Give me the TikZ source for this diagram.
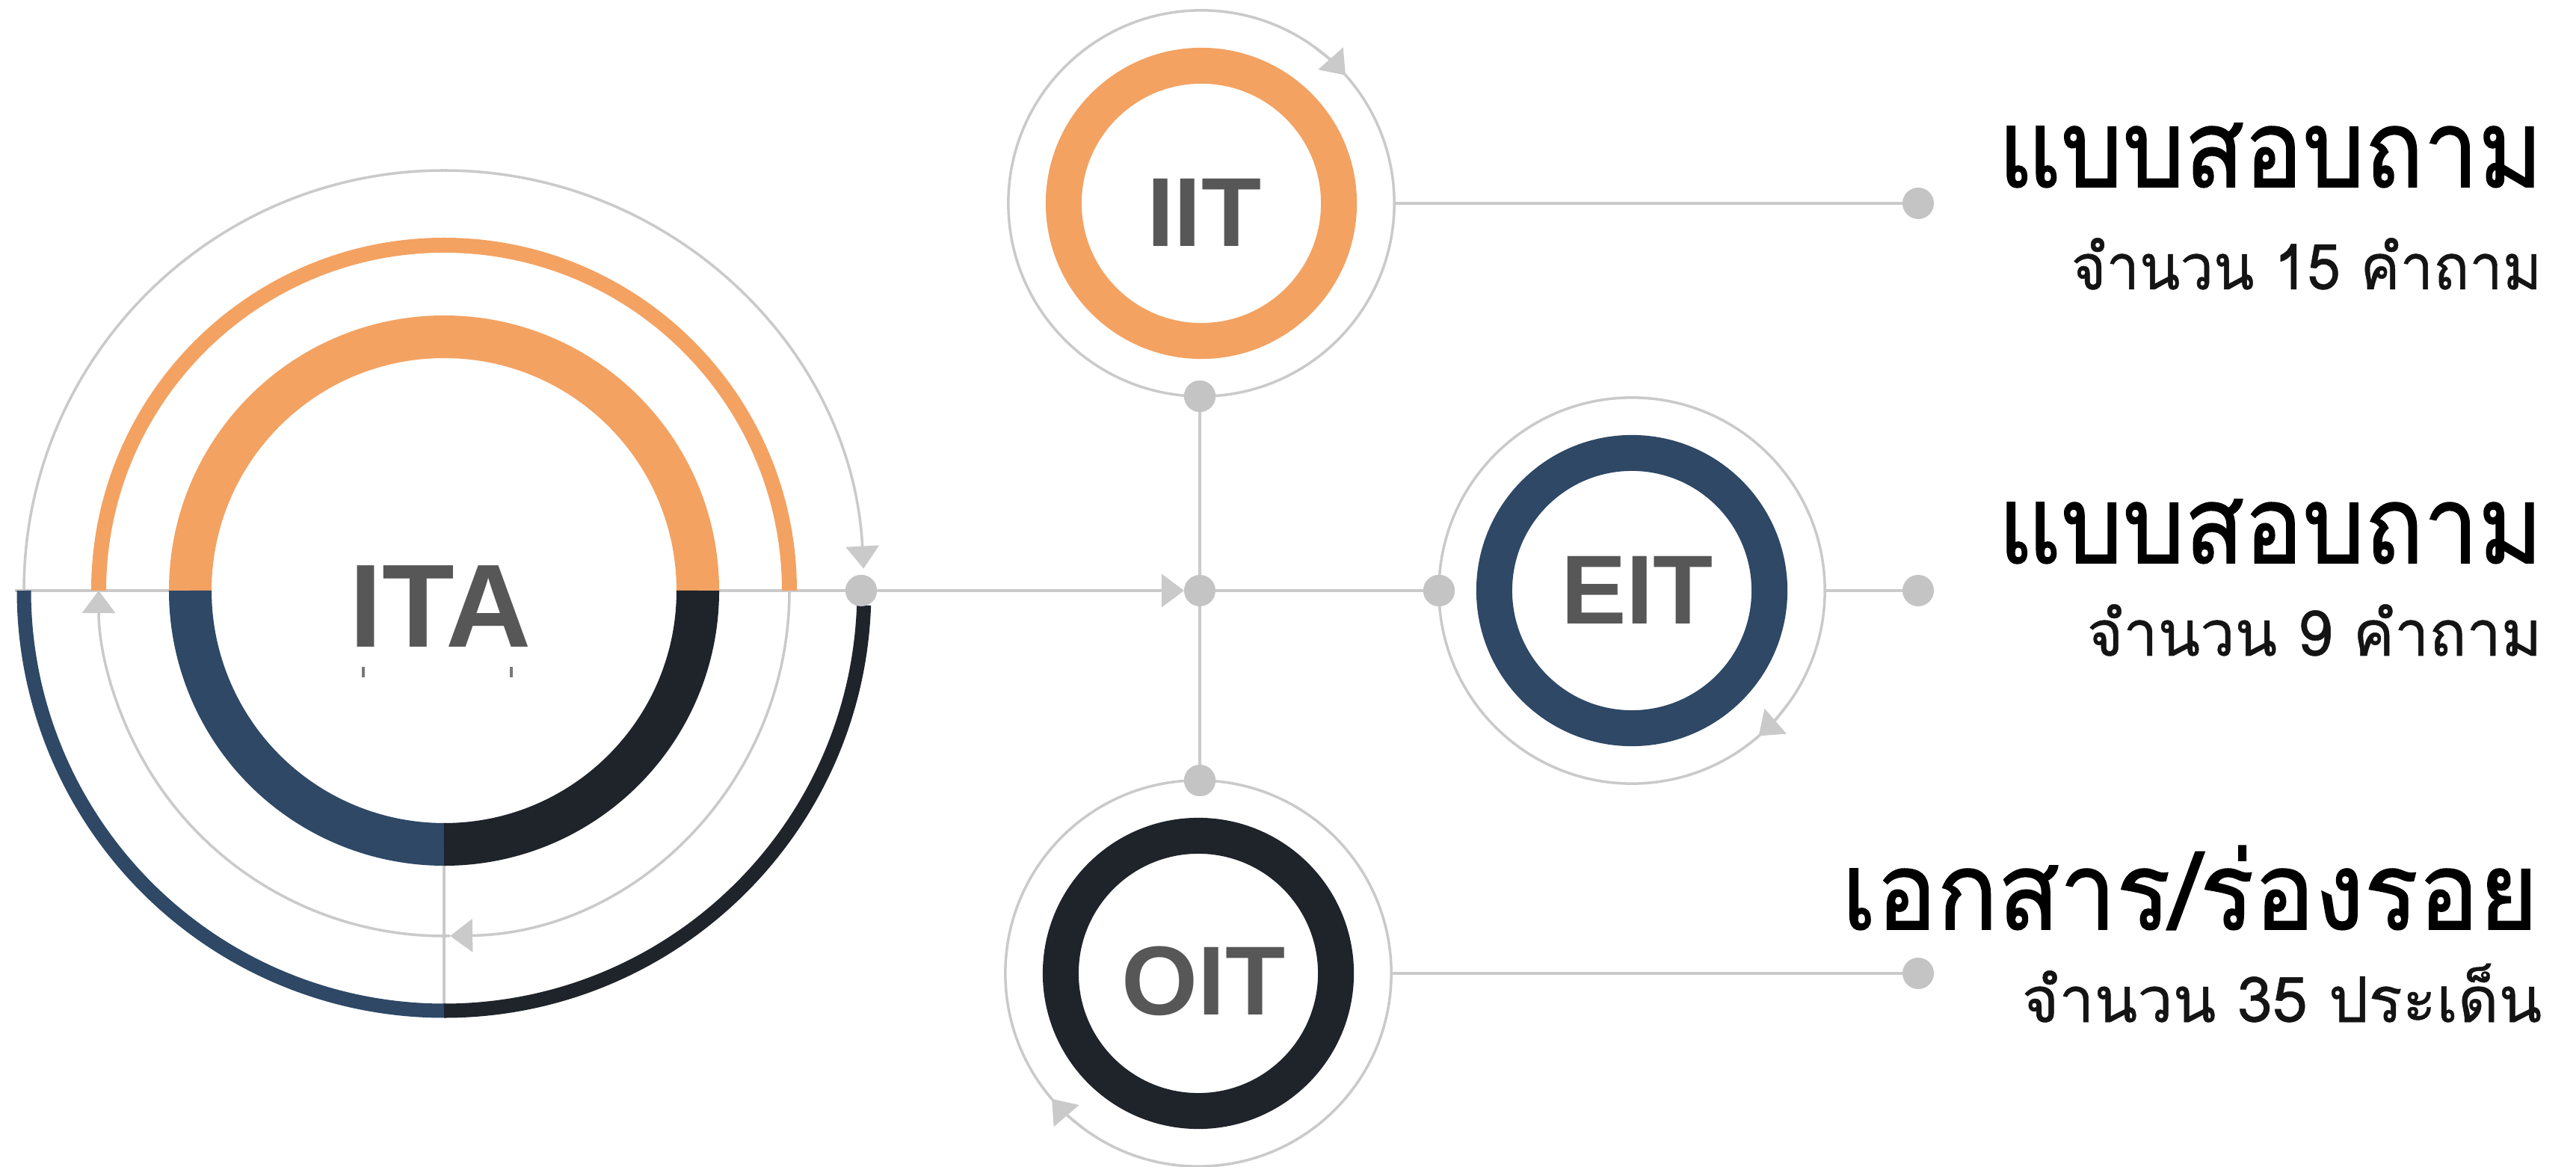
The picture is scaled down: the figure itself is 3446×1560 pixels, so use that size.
\documentclass[tikz,border=0pt]{standalone}
\usepackage{fontspec}
\setmainfont{Liberation Sans}
\newfontfamily\thaihead[Script=Thai,FakeBold=1.2]{Loma}
\newfontfamily\thaisub[Script=Thai,FakeBold=0.6]{Loma}
\usetikzlibrary{arrows.meta}
\definecolor{ringorange}{HTML}{F3A262}
\definecolor{ringnavy}{HTML}{2E4866}
\definecolor{ringdark}{HTML}{1F232A}
\definecolor{linegray}{HTML}{CACACA}
\definecolor{dotgray}{HTML}{C4C4C4}
\definecolor{labelgray}{HTML}{575757}
\newcommand{\fitw}[2]{\resizebox{#1}{\height}{#2}}
\begin{document}
\begin{tikzpicture}[x=0.01cm,y=0.01cm,
  thinline/.style={draw=linegray, line width=1pt},
  tip/.style={-{Triangle[length=0.3cm,width=0.44cm]}},
  dot/.style={circle, fill=dotgray, inner sep=0pt, outer sep=0pt, minimum size=0.42cm},
  orbit/.style={circle, draw=linegray, line width=1pt, minimum size=5.16cm, inner sep=0pt, outer sep=0pt},
  ring/.style={circle, line width=0.48cm, minimum size=3.68cm, inner sep=0pt, outer sep=0pt},
  abbr/.style={font=\bfseries\fontsize{37.3}{37.3}\selectfont, text=labelgray, inner sep=0pt, anchor=base},
  head/.style={font=\thaihead\fontsize{41}{41}\selectfont, anchor=base east, inner sep=0pt, text=black},
  sub/.style={font=\thaisub\fontsize{24}{24}\selectfont, anchor=base east, inner sep=0pt, text=black!92}]
\useasboundingbox (0,0) rectangle (3446,1560);
\fill[white] (0,0) rectangle (3446,1560);

% ---------- ITA ----------
\coordinate (C) at (594,770);
\coordinate (leftend) at (20,770);
\node[circle, minimum size=7.36cm, inner sep=0pt, outer sep=0pt] (ita) at (C) {};
\node[dot] (itadot) at (1152,770) {};
\node[dot] (hub) at (1605,770) {};
\node[dot] (iitdot) at (1605,1030) {};
\node[dot] (oitdot) at (1605,516) {};
\node[dot] (eitdot) at (1925,770) {};
\node[dot] (iitend) at (2566,1288) {};
\node[dot] (eitend) at (2566,770) {};
\node[dot] (oitend) at (2566,258) {};

% thin gray construction lines of ITA
\draw[thinline] (leftend) -- (ita.west);
\draw[thinline] (ita.east) -- (itadot);
\draw[thinline] ([yshift=-3.68cm]C) -- ([yshift=-5.62cm]C);
\draw[thinline, tip] ([shift={(180:562)}]C) arc[start angle=180, end angle=3, radius=562];
\draw[thinline, tip] ([shift={(0:462)}]C) arc[start angle=0, end angle=-89, radius=462];
\draw[thinline, tip] ([shift={(-89:462)}]C) arc[start angle=-89, end angle=-180, radius=462];

% coloured arcs of ITA
\draw[ringorange, line width=0.57cm] ([shift={(0:339.5)}]C) arc[start angle=0, end angle=180, radius=339.5];
\draw[ringnavy, line width=0.57cm] ([shift={(180:339.5)}]C) arc[start angle=180, end angle=270.3, radius=339.5];
\draw[ringdark, line width=0.57cm] ([shift={(270:339.5)}]C) arc[start angle=270, end angle=360, radius=339.5];
\draw[ringorange, line width=0.2cm] ([shift={(0:462)}]C) arc[start angle=0, end angle=180, radius=462];
\draw[ringnavy, line width=0.19cm] ([shift={(180:562)}]C) arc[start angle=180, end angle=270.2, radius=562];
\draw[ringdark, line width=0.19cm] ([shift={(270:562)}]C) arc[start angle=270, end angle=358, radius=562];

\node[font=\bfseries\fontsize{45}{45}\selectfont, text=labelgray, inner sep=0pt, anchor=base] (itatext) at (589,694) {ITA};
\draw[labelgray!80, line width=1pt] (486,668) -- (486,654);
\draw[labelgray!80, line width=1pt] (684,668) -- (684,654);

% ---------- hub connectors ----------
\draw[thinline, tip] (itadot) -- (hub);
\draw[thinline] (hub) -- (eitdot);
\draw[thinline] (iitdot) -- (hub);
\draw[thinline] (hub) -- (oitdot);

% ---------- IIT ----------
\node[orbit] (iito) at (1607,1288) {};
\node[ring, draw=ringorange] (iit) at (1607,1288) {};
\node[abbr] (iittext) at (1611,1230) {IIT};
\draw[thinline, tip] ([shift={(54:258)}]iito.center) arc[start angle=54, end angle=41.6, radius=258];
\draw[thinline] (iito.east) -- (iitend);

% ---------- EIT ----------
\node[orbit] (eito) at (2183,770) {};
\node[ring, draw=ringnavy] (eit) at (2183,770) {};
\node[abbr] (eittext) at (2190,725) {EIT};
\draw[thinline, tip] ([shift={(-36:258)}]eito.center) arc[start angle=-36, end angle=-48.9, radius=258];
\draw[thinline] (eito.east) -- (eitend);

% ---------- OIT ----------
\node[orbit] (oito) at (1603,258) {};
\node[ring, draw=ringdark] (oit) at (1603,258) {};
\node[abbr] (oittext) at (1610,203) {OIT};
\draw[thinline, tip] ([shift={(233:258)}]oito.center) arc[start angle=233, end angle=220.6, radius=258];
\draw[thinline] (oito.east) -- (oitend);

% re-draw dots above lines
\fill[dotgray] (iitdot) circle[radius=21];
\fill[dotgray] (oitdot) circle[radius=21];
\fill[dotgray] (eitdot) circle[radius=21];
\fill[dotgray] (itadot) circle[radius=21];

% ---------- texts ----------
\node[head] (h1) at (3402,1310) {\fitw{7.28cm}{แบบสอบถาม}};
\node[sub] (s1) at (3401,1173) {\fitw{6.29cm}{จำนวน 15 คำถาม}};
\node[head] (h2) at (3402,807) {\fitw{7.28cm}{แบบสอบถาม}};
\node[sub] (s2) at (3401,683) {\fitw{6.08cm}{จำนวน 9 คำถาม}};
\node[head] (h3) at (3396,317) {\fitw{9.31cm}{เอกสาร/ร่องรอย}};
\node[sub] (s3) at (3401,193) {\fitw{6.95cm}{จำนวน 35 ประเด็น}};
\end{tikzpicture}
\end{document}
